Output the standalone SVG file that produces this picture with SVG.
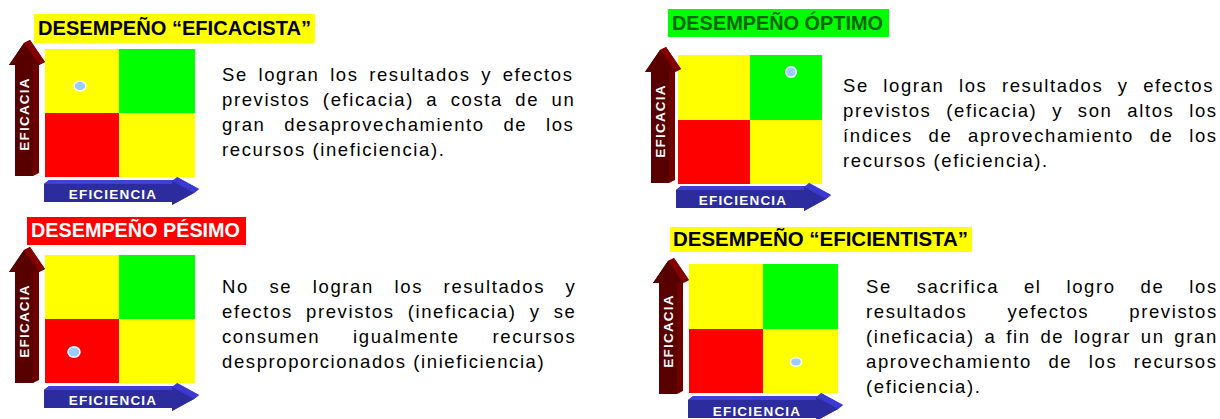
<svg xmlns="http://www.w3.org/2000/svg" width="1220" height="419" viewBox="0 0 1220 419">
<style>
.title{font-family:"Liberation Sans",Arial,sans-serif;font-weight:bold;font-size:20px}
.body{font-family:"Liberation Sans",Arial,sans-serif;font-size:18.5px;letter-spacing:1.6px;fill:#000}
.axis{font-family:"Liberation Sans",Arial,sans-serif;font-weight:bold;font-size:13.5px;letter-spacing:1.2px;fill:#fff;text-anchor:middle}
.y{fill:#FFFF00}.g{fill:#00FF00}.r{fill:#FF0000}
.dot{fill:#99CCFF;stroke:#fff;stroke-width:1.5}
</style>
<defs>
<g id="varrow">
<polygon points="-6,25 9,3 15,0 30,22 24,25 24,133 18,136 0,136 0,25" fill="#6E0000"/>
<polygon points="9,3 15,0 30,22 24,25" fill="#820000"/>
<polygon points="9,3 24,25 18,25 18,136 0,136 0,25 -6,25" fill="#580000"/>
</g>
<g id="harrow">
<polygon points="0,18 0,0 5,-4 133,-4 133,-7 155,5 150,9 128,21 128,18" fill="#3434C4"/>
<polygon points="0,0 5,-4 133,-4 128,0" fill="#4040D6"/>
<polygon points="128,-3 133,-7 155,5 150,9" fill="#3A3AD0"/>
<polygon points="0,0 128,0 128,-3 150,9 128,21 128,18 0,18" fill="#2C2C9E"/>
</g>
</defs>
<rect width="1220" height="419" fill="#fff"/>

<g id="panel-eficacista">
<rect x="34" y="14" width="281" height="29" class="y"/>
<text class="title" x="38" y="35" textLength="273" lengthAdjust="spacingAndGlyphs" fill="#000">DESEMPEÑO “EFICACISTA”</text>
<rect x="45" y="49" width="74" height="64" class="y"/>
<rect x="119" y="49" width="76" height="64" class="g"/>
<rect x="45" y="113" width="74" height="64" class="r"/>
<rect x="119" y="113" width="76" height="64" class="y"/>
<ellipse cx="80" cy="86" rx="6" ry="4.8" class="dot"/>
<use href="#varrow" transform="translate(15,40)"/>
<text class="axis" transform="translate(29,114) rotate(-90)">EFICACIA</text>
<use href="#harrow" transform="translate(44,184)"/>
<text class="axis" x="113" y="199">EFICIENCIA</text>
<text class="body" x="222" y="81" word-spacing="3.9">Se logran los resultados y efectos</text>
<text class="body" x="222" y="106" word-spacing="5.7">previstos (eficacia) a costa de un</text>
<text class="body" x="222" y="131" word-spacing="12">gran desaprovechamiento de los</text>
<text class="body" x="222" y="156">recursos (ineficiencia).</text>
</g>

<g id="panel-optimo">
<rect x="668" y="9" width="221" height="28" class="g"/>
<text class="title" x="672" y="30" textLength="211" lengthAdjust="spacingAndGlyphs" fill="#006600">DESEMPEÑO ÓPTIMO</text>
<rect x="678" y="55" width="72" height="65" class="y"/>
<rect x="750" y="55" width="72" height="65" class="g"/>
<rect x="678" y="120" width="72" height="64" class="r"/>
<rect x="750" y="120" width="72" height="64" class="y"/>
<circle cx="791" cy="72" r="5.3" class="dot"/>
<use href="#varrow" transform="translate(651,47)"/>
<text class="axis" transform="translate(665,121) rotate(-90)">EFICACIA</text>
<use href="#harrow" transform="translate(676,190)"/>
<text class="axis" x="743" y="205">EFICIENCIA</text>
<text class="body" x="843" y="92" word-spacing="7.8">Se logran los resultados y efectos</text>
<text class="body" x="843" y="117" word-spacing="8.1">previstos (eficacia) y son altos los</text>
<text class="body" x="843" y="142" word-spacing="9">índices de aprovechamiento de los</text>
<text class="body" x="843" y="167">recursos (eficiencia).</text>
</g>

<g id="panel-pesimo">
<rect x="27" y="217" width="219" height="28" class="r"/>
<text class="title" x="31" y="237" textLength="209" lengthAdjust="spacingAndGlyphs" fill="#fff">DESEMPEÑO PÉSIMO</text>
<rect x="45" y="255" width="74" height="64" class="y"/>
<rect x="119" y="255" width="76" height="64" class="g"/>
<rect x="45" y="319" width="74" height="64" class="r"/>
<rect x="119" y="319" width="76" height="64" class="y"/>
<ellipse cx="74" cy="352" rx="6" ry="5.3" class="dot"/>
<use href="#varrow" transform="translate(15,247)"/>
<text class="axis" transform="translate(29,321) rotate(-90)">EFICACIA</text>
<use href="#harrow" transform="translate(44,390)"/>
<text class="axis" x="113" y="405">EFICIENCIA</text>
<text class="body" x="222" y="292.5" word-spacing="13.9">No se logran los resultados y</text>
<text class="body" x="222" y="317.5" word-spacing="6.5">efectos previstos (ineficacia) y se</text>
<text class="body" x="222" y="342.5" word-spacing="26.2">consumen igualmente recursos</text>
<text class="body" x="222" y="367.5">desproporcionados (inieficiencia)</text>
</g>

<g id="panel-eficientista">
<rect x="670" y="227" width="302" height="25" class="y"/>
<text class="title" x="673" y="246" textLength="295" lengthAdjust="spacingAndGlyphs" fill="#000">DESEMPEÑO “EFICIENTISTA”</text>
<rect x="689" y="264" width="74" height="65" class="y"/>
<rect x="763" y="264" width="75" height="65" class="g"/>
<rect x="689" y="329" width="74" height="64" class="r"/>
<rect x="763" y="329" width="75" height="64" class="y"/>
<ellipse cx="796" cy="362" rx="5.5" ry="4.2" class="dot"/>
<use href="#varrow" transform="translate(659,258)"/>
<text class="axis" transform="translate(673,331) rotate(-90)">EFICACIA</text>
<use href="#harrow" transform="translate(688,400)"/>
<text class="axis" x="757" y="416">EFICIENCIA</text>
<text class="body" x="866" y="292.5" word-spacing="18.2">Se sacrifica el logro de los</text>
<text class="body" x="866" y="317.5" word-spacing="33.4">resultados yefectos previstos</text>
<text class="body" x="866" y="342.5" word-spacing="3.1">(ineficacia) a fin de lograr un gran</text>
<text class="body" x="866" y="367.5" word-spacing="9.8">aprovechamiento de los recursos</text>
<text class="body" x="866" y="392.5">(eficiencia).</text>
</g>

<g id="connectors"/>
</svg>
